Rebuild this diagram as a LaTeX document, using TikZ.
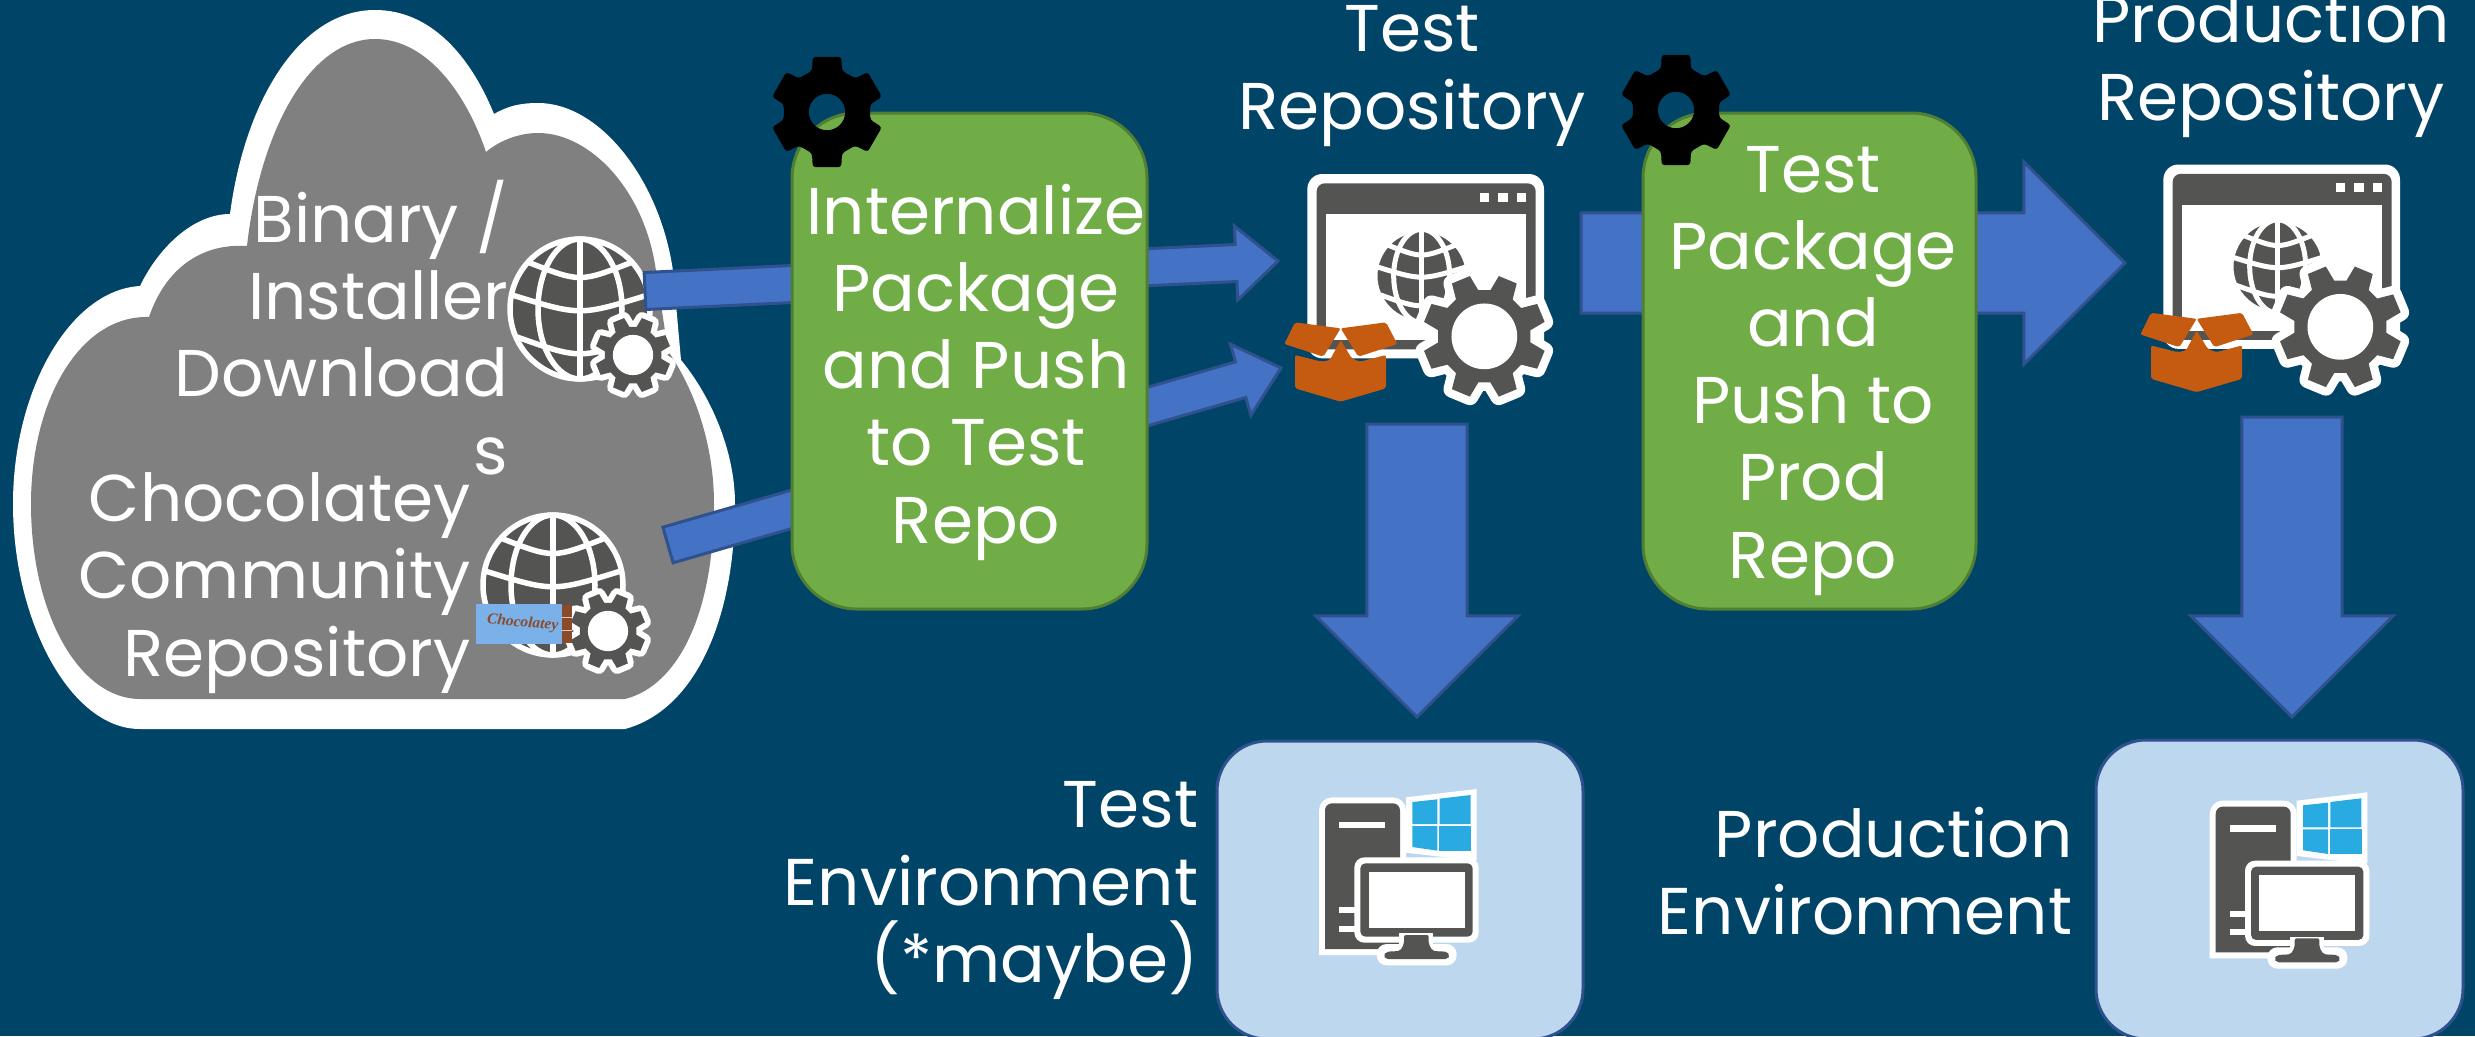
\documentclass[tikz,border=0pt]{standalone}
\usepackage{fontspec}
\setmainfont{Poppins}
\usetikzlibrary{calc}
\definecolor{bg}{HTML}{004468}
\definecolor{cloudgrey}{HTML}{808080}
\definecolor{icondark}{HTML}{545453}
\definecolor{arrowblue}{HTML}{4472C4}
\definecolor{arrowedge}{HTML}{2F528F}
\definecolor{greenbox}{HTML}{70AD47}
\definecolor{greenedge}{HTML}{507E32}
\definecolor{envblue}{HTML}{BDD7EE}
\definecolor{boxorange}{HTML}{C55A11}
\definecolor{winblue}{HTML}{29ABE2}
\definecolor{wrapblue}{HTML}{7AB1E8}
\definecolor{choco}{HTML}{8A4B2A}
\tikzset{
  x=0.01cm,y=-0.01cm,
  label/.style={text=white,inner sep=0pt,font=\fontsize{18.8}{21.9}\selectfont},
  greenstep/.style={fill=greenbox,draw=greenedge,line width=0.03cm,rounded corners=0.65cm},
  envbox/.style={fill=envblue,draw=arrowedge,line width=0.03cm,rounded corners=0.5cm},
  blockarrow/.style={fill=arrowblue,draw=arrowedge,line width=0.03cm,line join=miter},
}
\newcommand\blockarr[5]{% from, to, half shaft, half head, head length
  \coordinate (ah) at ($(#2)!#5!(#1)$);
  \draw[blockarrow] ($(#1)!#3!90:(#2)$) -- ($(ah)!#3!90:(#2)$) -- ($(ah)!#4!90:(#2)$) -- (#2)
    -- ($(ah)!#4!-90:(#2)$) -- ($(ah)!#3!-90:(#2)$) -- ($(#1)!#3!-90:(#2)$) -- cycle;
}
\newcommand\gearicon[4]{% x, y, tip radius, halo width (line width)
  \begin{scope}[shift={(#1,#2)},scale=#3]
    \def\gearoutline{(22.5-15:0.75) -- (22.5-9:1) -- (22.5+9:1) -- (22.5+15:0.75) foreach \a in {67.5,112.5,...,337.5} { -- (\a-15:0.75) -- (\a-9:1) -- (\a+9:1) -- (\a+15:0.75) } -- cycle}
    \draw[white,fill=white,line width=#4,line join=round] \gearoutline;
    \fill[icondark] \gearoutline;
    \fill[white] (0,0) circle (0.53);
  \end{scope}
}
\newcommand\blackgear[2]{%
  \begin{scope}[shift={(#1,#2)},scale=57]
    \fill[black,even odd rule,rounded corners=0.03cm] (90-20:0.77) -- (90-14.5:1) -- (90+14.5:1) -- (90+20:0.77)
      foreach \a in {150,210,270,330,390} { -- (\a-20:0.77) -- (\a-14.5:1) -- (\a+14.5:1) -- (\a+20:0.77) } -- cycle
      (0,0) circle (0.32);
  \end{scope}
}
\newcommand\globeicon[4]{% x, y, radius, line width
  \begin{scope}[shift={(#1,#2)},scale=#3]
    \fill[icondark] (0,0) circle (1);
    \draw[white,line width=#4] (0,0) circle (1);
    \draw[white,line width=#4] (0,0) ellipse (0.6 and 1);
    \draw[white,line width=#4] (0,-1) -- (0,1);
    \draw[white,line width=#4] (-0.72,-0.66) .. controls (0,-0.38) .. (0.72,-0.66);
    \draw[white,line width=#4] (-0.97,-0.2) .. controls (0,0.1) .. (0.97,-0.2);
    \draw[white,line width=#4] (-0.9,0.4) .. controls (0,0.72) .. (0.9,0.4);
  \end{scope}
}
\newcommand\repoicon[2]{% top-left origin of the crop
  \begin{scope}[shift={(#1,#2)},scale=0.33333]
    \fill[white,rounded corners=0.15cm] (172,102) rectangle (882,655);
    \fill[icondark,rounded corners=0.08cm] (200,130) rectangle (857,628);
    \fill[white] (227,222) rectangle (829,600);
    \foreach \q in {690,745,800} \fill[white] (\q,158) rectangle (\q+28,185);
    \globeicon{515}{408}{140}{0.05cm}
    \gearicon{703}{589}{186}{0.17cm}
    \fill[boxorange,rounded corners=0.02cm] (135,645) -- (215,665) -- (240,660) -- (272,600) -- (305,655) -- (330,665) -- (408,645) -- (408,745) -- (272,785) -- (135,745) -- cycle;
    \fill[boxorange,rounded corners=0.02cm] (135,547) -- (272,565) -- (220,650) -- (103,612) -- cycle;
    \fill[boxorange,rounded corners=0.02cm] (272,565) -- (408,547) -- (442,612) -- (325,650) -- cycle;
  \end{scope}
}
\newcommand\envicon[2]{%
  \begin{scope}[shift={(#1,#2)},scale=0.33333]
    \fill[white] (357,705) [rounded corners=0.13cm] -- (357,232) -- (618,232) [sharp corners] -- (618,705) -- cycle;
    \fill[icondark] (375,687) [rounded corners=0.07cm] -- (375,250) -- (600,250) [sharp corners] -- (600,687) -- cycle;
    \fill[white] (418,306) rectangle (556,325);
    \fill[white] (418,562) rectangle (470,580);
    \fill[white] (418,618) rectangle (470,636);
    \fill[white] (618,232) -- (830,207) -- (830,420) -- (738,412) -- (618,398) -- cycle;
    \fill[winblue] (637,246) -- (712,238) -- (712,312) -- (637,312) -- cycle;
    \fill[winblue] (719,236) -- (812,225) -- (812,312) -- (719,312) -- cycle;
    \fill[winblue] (637,318) -- (712,318) -- (712,392) -- (637,381) -- cycle;
    \fill[winblue] (717,318) -- (813,318) -- (813,393) -- (717,393) -- cycle;
    \fill[white,rounded corners=0.1cm] (463,412) rectangle (836,668);
    \fill[white,rounded corners=0.1cm] (530,672) rectangle (770,736);
    \fill[icondark,rounded corners=0.05cm] (481,430) rectangle (818,650);
    \fill[white] (506,455) rectangle (794,624);
    \fill[white] (598,640) rectangle (700,690);
    \fill[icondark,rounded corners=0.02cm] (612,645) -- (612,672) -- (600,693) -- (560,695) -- (550,707) -- (558,717) -- (742,717) -- (750,707) -- (740,695) -- (698,693) -- (686,672) -- (686,645) -- cycle;
  \end{scope}
}
\begin{document}
\begin{tikzpicture}
\useasboundingbox (0,0) rectangle (2475,1036);
\clip (0,0) rectangle (2475,1036);
\fill[bg] (0,0) rectangle (2475,1036);

% cloud: white outer outline and grey interior
\fill[white]
  (140,729) .. controls (70,729) and (13,620) .. (13,504)
  .. controls (13,390) and (70,290) .. (140,286)
  .. controls (160,245) and (195,214) .. (230,214)
  .. controls (245,100) and (300,10) .. (375,10)
  .. controls (430,10) and (470,55) .. (494,114)
  .. controls (508,106) and (520,103) .. (538,103)
  .. controls (600,103) and (660,180) .. (673,271)
  -- (681,360)
  .. controls (710,395) and (735,450) .. (735,504)
  .. controls (735,620) and (695,710) .. (625,729) -- cycle;
\fill[cloudgrey]
  (140,699) .. controls (80,699) and (31,615) .. (31,504)
  .. controls (31,400) and (80,315) .. (149,317)
  .. controls (165,270) and (200,243) .. (247,246)
  .. controls (260,130) and (310,39) .. (375,39)
  .. controls (425,39) and (465,90) .. (486,152)
  .. controls (500,140) and (520,133) .. (538,133)
  .. controls (590,133) and (645,190) .. (656,271)
  -- (668,351)
  .. controls (695,390) and (714,445) .. (714,504)
  .. controls (714,610) and (680,685) .. (625,699) -- cycle;

\node[label,anchor=base east,align=right] (cloudA) at (509,474) {Binary /\\Installer\\Download\\s};
\node[label,anchor=base east,align=right] (cloudB) at (471,676) {Chocolatey\\Community\\Repository};

\globeicon{580}{309}{70}{0.055cm}
\gearicon{633}{355}{38}{0.12cm}
\globeicon{553}{585}{70}{0.055cm}
\gearicon{608}{631}{38}{0.12cm}
% chocolate bar
\begin{scope}[shift={(440,500)},scale=0.33333]
  \fill[wrapblue] (108,313) rectangle (365,432);
  \fill[choco] (365,315) rectangle (395,430);
  \draw[white!70!choco,line width=0.004cm] (365,352) -- (395,352) (365,390) -- (395,390);
  \node[text=choco,inner sep=0pt,rotate=-5,font=\fontspec{Liberation Serif}\bfseries\itshape\fontsize{4.4}{5}\selectfont] (chocobar) at (248,370) {Chocolatey};
\end{scope}

% coordinates for connector ends
\coordinate (srcA) at (645,291);
\coordinate (tipA) at (1278,261);
\coordinate (srcB) at (668,545);
\coordinate (tipB) at (1281,368);
\coordinate (srcC) at (1581,263);
\coordinate (tipC) at (2125,263);
\coordinate (srcD) at (1417,424);
\coordinate (tipD) at (1417,717);
\coordinate (srcE) at (2292,417);
\coordinate (tipE) at (2292,717);

\blockarr{srcA}{tipA}{0.185cm}{0.37cm}{0.42cm}
\blockarr{srcB}{tipB}{0.185cm}{0.37cm}{0.42cm}
\blockarr{srcC}{tipC}{0.5cm}{1.01cm}{1.01cm}
\blockarr{srcD}{tipD}{0.5cm}{1.01cm}{1.01cm}
\blockarr{srcE}{tipE}{0.5cm}{1.01cm}{1.01cm}

% green steps
\draw[greenstep] (792,113) rectangle (1147,609);
\draw[greenstep] (1643,113) rectangle (1976,609);
\blackgear{827}{112}
\blackgear{1676}{110}
\node[label,anchor=base,align=center] (stepA) at (976,543) {Internalize\\Package\\and Push\\to Test\\Repo};
\node[label,anchor=base,align=center] (stepB) at (1813,578) {Test\\Package\\and\\Push to\\Prod\\Repo};

% repository icons
\repoicon{1250}{140}
\repoicon{2106}{130.5}
\node[label,anchor=base,align=center] (repoT) at (1412,129) {Test\\Repository};
\node[label,anchor=base,align=center] (repoP) at (2271,120) {Production\\Repository};

% environments
\draw[envbox] (1217,741) rectangle (1583,1039);
\draw[envbox] (2096,740) rectangle (2463,1039);
\envicon{1200}{720}
\envicon{2090.7}{723.3}
\node[label,anchor=base east,align=right] (envT) at (1199,982) {Test\\Environment\\(*maybe)};
\node[label,anchor=base east,align=right] (envP) at (2073,934) {Production\\Environment};
\end{tikzpicture}
\end{document}
